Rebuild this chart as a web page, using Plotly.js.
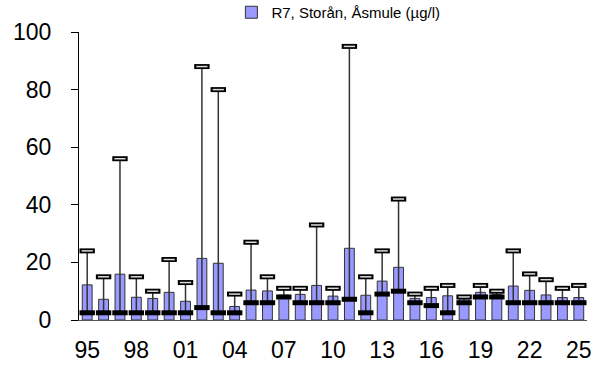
<!DOCTYPE html>
<html>
<head>
<meta charset="utf-8">
<script src="https://cdn.plot.ly/plotly-3.0.1.min.js"></script>
<style>html,body{margin:0;padding:0;background:#fff;}#chart{width:602px;height:365px;}</style>
</head>
<body>
<div id="chart"></div>
<script>
const years = [1995,1996,1997,1998,1999,2000,2001,2002,2003,2004,2005,2006,2007,2008,2009,2010,2011,2012,2013,2014,2015,2016,2017,2018,2019,2020,2021,2022,2023,2024,2025];
const meanVals = [12.2,7.2,15.9,7.9,7.5,9.6,6.5,21.4,19.7,4.7,10.4,10.1,8.6,8.9,12.0,8.3,24.9,8.6,13.5,18.3,7.5,7.8,8.4,7.5,9.6,8.9,11.8,10.3,8.7,7.8,7.8];
const maxVals = [24,15,56,15,10,21,13,88,80,9,27,15,11,11,33,11,95,15,24,42,9,11,12,8,12,10,24,16,14,11,12];
const minVals = [2.5,2.5,2.5,2.5,2.5,2.5,2.5,4.3,2.5,2.5,6,6,8,6,6,6,7.2,2.5,9,10,6,5,2.5,6,8,8,6,6,6,6,6];
const tickYears = [1995,1998,2001,2004,2007,2010,2013,2016,2019,2022,2025];
const tickLabels = ['95','98','01','04','07','10','13','16','19','22','25'];
const seriesName = 'R7, Storån, Åsmule (µg/l)';

const errPlus = maxVals.map((v,i)=>v-meanVals[i]);
const errMinus = minVals.map((v,i)=>meanVals[i]-v);

const traces = [
  {
    type:'bar', x:years, y:meanVals, name:seriesName, width:0.6,
    marker:{color:'#9999FF', line:{color:'#333', width:1}},
    error_y:{type:'data', symmetric:false, array:errPlus, arrayminus:errMinus, width:0, thickness:1.5, color:'#333'},
    showlegend:true
  },
  {
    type:'scatter', mode:'markers', x:years, y:minVals, showlegend:false,
    marker:{symbol:'line-ew', size:11, color:'#000', line:{color:'#000', width:5}}
  },
  {
    type:'scatter', mode:'markers', x:years, y:maxVals, showlegend:false,
    marker:{symbol:'line-ew', size:11, color:'#000', line:{color:'#000', width:5}}
  },
  {
    type:'scatter', mode:'markers', x:years, y:maxVals, showlegend:false,
    marker:{symbol:'line-ew', size:8, color:'#ddd', line:{color:'#ddd', width:1.5}}
  }
];

const layout = {
  width:602, height:365,
  margin:{l:79, r:15, t:32, b:45, pad:0, autoexpand:false},
  paper_bgcolor:'#fff', plot_bgcolor:'#fff',
  font:{family:'Arial, "Liberation Sans", sans-serif', color:'#000'},
  showlegend:true,
  legend:{orientation:'h', x:0.3, xanchor:'left', y:1.125, yanchor:'top', font:{size:15}, itemwidth:30, bgcolor:'rgba(0,0,0,0)'},
  xaxis:{
    range:[1994.5, 2025.5], tickmode:'array', tickvals:tickYears, ticktext:tickLabels,
    showline:true, linecolor:'#555', linewidth:1, ticks:'', showgrid:false, zeroline:false,
    tickfont:{size:23}, ticklabelstandoff:9
  },
  yaxis:{
    range:[0,100], dtick:20, showline:true, linecolor:'#000', linewidth:1,
    ticks:'outside', ticklen:7, tickcolor:'#000', showgrid:false, zeroline:false,
    tickfont:{size:23}, ticklabelstandoff:15
  },
  bargap:0.4
};

Plotly.newPlot('chart', traces, layout, {staticPlot:true, displayModeBar:false});
</script>
</body>
</html>
